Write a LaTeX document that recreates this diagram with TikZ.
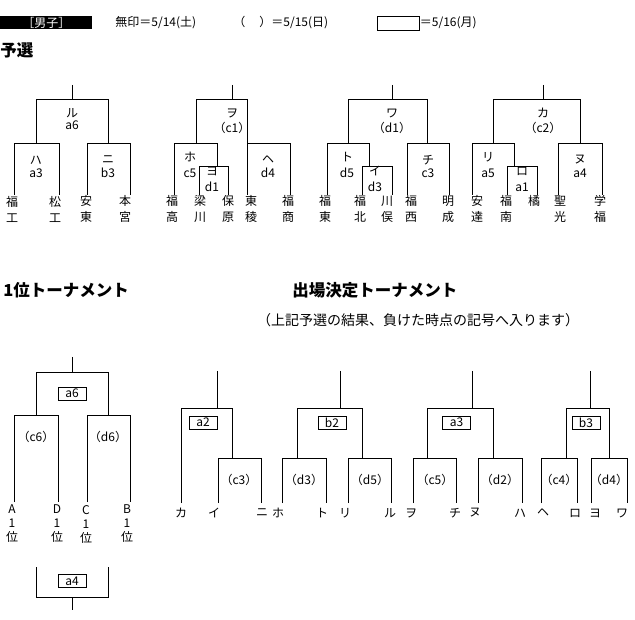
\documentclass[tikz,border=0pt]{standalone}
\usepackage{fontspec}
\setmainfont{Noto Sans CJK JP}

\begin{document}
\begin{tikzpicture}
      [x=1pt,y=-1pt,line width=0.9pt,
      every node/.style={inner sep=0pt,font=\fontsize{12}{14}\selectfont},
      team/.style={align=center,font=\fontsize{12}{16}\selectfont},
      ichii/.style={align=center,font=\fontsize{12}{14}\selectfont},
      kigo/.style={draw,minimum width=28pt,minimum height=13pt},
      heading/.style={anchor=west,font=\fontsize{16.5}{18}\selectfont\bfseries}]
   \fill[white] (0,0) rectangle (635,620);
   \useasboundingbox (0,0) rectangle (635,620);
   \node[fill=black,text=white,minimum width=92pt,minimum height=13pt,anchor=west] (danshi) at (0,22.5) {［男子］};
   \node[anchor=west] (mujirushi) at (115,23) {無印＝5/14(土)};
   \node[anchor=west] (kakko) at (233,23) {（\hspace{14pt}）＝5/15(日)};
   \node[draw,minimum width=42pt,minimum height=14pt] (waku) at (398,23) {};
   \node[anchor=west] (waku-hi) at (waku.east) {＝5/16(月)};
   \node[heading] (yosen) at (0,50) {予選};
   \draw (72,85) -- (72,99) (36,143) |- (108,99) -- (108,143);
   \draw (14,195) |- (59,143) -- (59,195);
   \draw (87,195) |- (130,143) -- (130,195);
   \draw (232,85) -- (232,99) (196,143) |- (247,99) -- (247,143);
   \draw (174,195) |- (217,143) -- (217,166);
   \draw (199,195) |- (228,166) -- (228,195);
   \draw (247,195) |- (290,143) -- (290,195);
   \draw (392,85) -- (392,99) (348,143) |- (427,99) -- (427,143);
   \draw (327,195) |- (369,143) -- (369,166);
   \draw (362,195) |- (392,166) -- (392,195);
   \draw (407,195) |- (449,143) -- (449,195);
   \draw (543,85) -- (543,99) (493,143) |- (580,99) -- (580,143);
   \draw (472,195) |- (514,143) -- (514,166);
   \draw (507,195) |- (537,166) -- (537,195);
   \draw (558,195) |- (602,143) -- (602,195);
   \node (ru) at (72,113) {ル};
   \node (ru-k) at (72,125) {a6};
   \node (ha) at (36,160) {ハ};
   \node (ha-k) at (36,173) {a3};
   \node (ni) at (108,160) {ニ};
   \node (ni-k) at (108,173) {b3};
   \node (wo) at (232,113) {ヲ};
   \node (wo-k) at (232,128) {（c1）};
   \node (ho) at (190,157) {ホ};
   \node (ho-k) at (190,173) {c5};
   \node (yo) at (212,171) {ヨ};
   \node (yo-k) at (212,187) {d1};
   \node (he) at (268,160) {ヘ};
   \node (he-k) at (268,173) {d4};
   \node (wa) at (392,113) {ワ};
   \node (wa-k) at (392,128) {（d1）};
   \node (to) at (347,157) {ト};
   \node (to-k) at (347,173) {d5};
   \node (i) at (375,171) {イ};
   \node (i-k) at (375,187) {d3};
   \node (chi) at (428,160) {チ};
   \node (chi-k) at (428,173) {c3};
   \node (ka) at (543,113) {カ};
   \node (ka-k) at (543,128) {（c2）};
   \node (ri) at (488,157) {リ};
   \node (ri-k) at (488,173) {a5};
   \node (ro) at (522,171) {ロ};
   \node (ro-k) at (522,187) {a1};
   \node (nu) at (580,160) {ヌ};
   \node (nu-k) at (580,173) {a4};
   \node[team] (fukukou) at (12,209) {福\\工};
   \node[team] (matsukou) at (55,209) {松\\工};
   \node[team] (anto) at (86,209) {安\\東};
   \node[team] (motomiya) at (125,209) {本\\宮};
   \node[team] (fukutaka) at (172,209) {福\\高};
   \node[team] (yanagawa) at (200,209) {梁\\川};
   \node[team] (hobara) at (228,209) {保\\原};
   \node[team] (touryou) at (251,209) {東\\稜};
   \node[team] (fukushou) at (288,209) {福\\商};
   \node[team] (fukuto) at (325,209) {福\\東};
   \node[team] (fukuhoku) at (360,209) {福\\北};
   \node[team] (kawamata) at (387,209) {川\\俣};
   \node[team] (fukunishi) at (411,209) {福\\西};
   \node[team] (meisei) at (448,209) {明\\成};
   \node[team] (adachi) at (477,209) {安\\達};
   \node[team] (fukunan) at (506,209) {福\\南};
   \node (tachibana) at (534,201) {橘};
   \node[team] (seikou) at (560,209) {聖\\光};
   \node[team] (gakufuku) at (600,209) {学\\福};
   \node[heading] (ichiitn) at (3,290) {1位トーナメント};
   \node[heading] (shutsujou) at (292,290) {出場決定トーナメント};
   \node[font=\fontsize{14}{16}\selectfont] (chuki) at (418,320) {（上記予選の結果、負けた時点の記号へ入ります）};
   \draw (72,357) -- (72,372) (36,415) |- (108,372) -- (108,415);
   \draw (14,502) |- (58,415) -- (58,502);
   \draw (87,502) |- (130,415) -- (130,502);
   \draw (36,567) |- (108,597) -- (108,567) (72,597) -- (72,610);
   \node[kigo] (kessho) at (72,393.5) {a6};
   \node[kigo] (sanni) at (72,581) {a4};
   \node (c6) at (36,437) {（c6）};
   \node (d6) at (108,437) {（d6）};
   \node[ichii] (a-ichi) at (12,524) {A\\1\\位};
   \node[ichii] (d-ichi) at (57,524) {D\\1\\位};
   \node[ichii] (c-ichi) at (86,524) {C\\1\\位};
   \node[ichii] (b-ichi) at (127,524) {B\\1\\位};
   \draw (217,371) -- (217,408) (181,503) |- (232,408) -- (232,458);
   \draw (218,503) |- (261,458) -- (261,503);
   \draw (340,371) -- (340,408) (297,458) |- (362,408) -- (362,458);
   \draw (282,503) |- (326,458) -- (326,503);
   \draw (348,503) |- (391,458) -- (391,503);
   \draw (472,371) -- (472,408) (427,458) |- (493,408) -- (493,458);
   \draw (413,503) |- (456,458) -- (456,503);
   \draw (478,503) |- (522,458) -- (522,503);
   \draw (590,371) -- (590,408) (566,458) |- (609,408) -- (609,458);
   \draw (541,503) |- (577,458) -- (577,503);
   \draw (591,503) |- (627,458) -- (627,503);
   \node[kigo] (a2) at (203,422.5) {a2};
   \node[kigo] (b2) at (332,422.5) {b2};
   \node[kigo] (a3) at (456.5,422.5) {a3};
   \node[kigo] (b3) at (586,422.5) {b3};
   \node (c3) at (239,480) {（c3）};
   \node (d3) at (304,480) {（d3）};
   \node (d5) at (370,480) {（d5）};
   \node (c5) at (435,480) {（c5）};
   \node (d2) at (500,480) {（d2）};
   \node (c4) at (559,480) {（c4）};
   \node (d4) at (609,480) {（d4）};
   \node (s-ka) at (181,513) {カ};
   \node (s-i) at (214,513) {イ};
   \node (s-ni) at (262,513) {ニ};
   \node (s-ho) at (278,513) {ホ};
   \node (s-to) at (322,513) {ト};
   \node (s-ri) at (345,513) {リ};
   \node (s-ru) at (390,513) {ル};
   \node (s-wo) at (411,513) {ヲ};
   \node (s-chi) at (455,513) {チ};
   \node (s-nu) at (475,513) {ヌ};
   \node (s-ha) at (520,513) {ハ};
   \node (s-he) at (543,513) {ヘ};
   \node (s-ro) at (575,513) {ロ};
   \node (s-yo) at (595,513) {ヨ};
   \node (s-wa) at (622,513) {ワ};
\end{tikzpicture}
\end{document}
